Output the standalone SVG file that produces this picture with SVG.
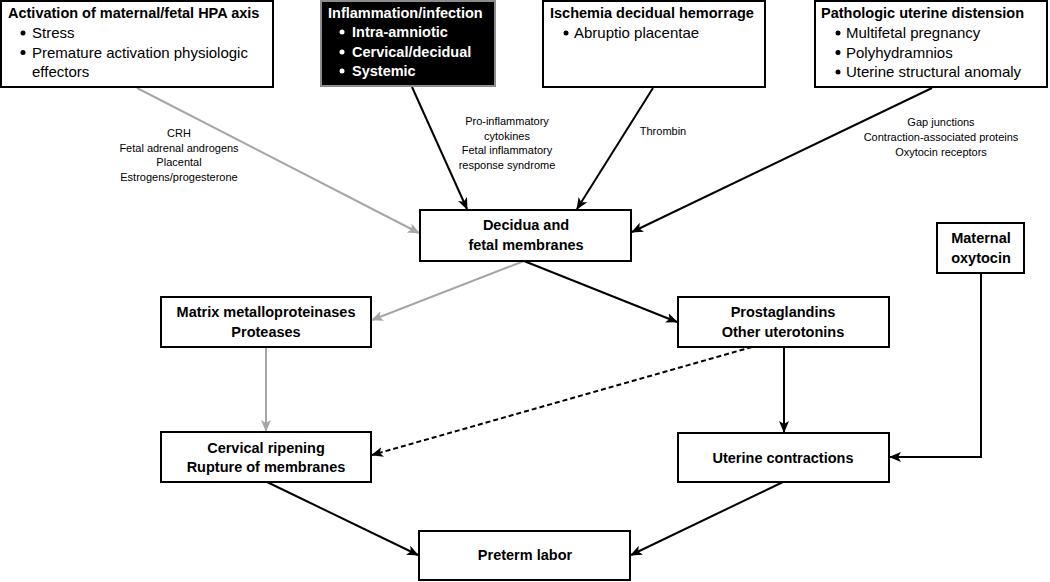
<svg xmlns="http://www.w3.org/2000/svg" width="1050" height="582" viewBox="0 0 1050 582">
<style>
.box{fill:#fff;stroke:#000;stroke-width:2}
.dark{fill:#000;stroke:#8c8c8c;stroke-width:2}
.t{font-family:"Liberation Sans",Arial,sans-serif;font-size:14.5px;font-weight:bold;fill:#000}
.tw{font-family:"Liberation Sans",Arial,sans-serif;font-size:14.5px;font-weight:bold;fill:#fff}
.b{font-family:"Liberation Sans",Arial,sans-serif;font-size:15px;fill:#000}
.l{font-family:"Liberation Sans",Arial,sans-serif;font-size:11px;fill:#000;text-anchor:middle}
.c{text-anchor:middle}
.k{stroke:#000;stroke-width:2;fill:none}
.g{stroke:#a6a6a6;stroke-width:2;fill:none}
.d{stroke:#000;stroke-width:2;fill:none;stroke-dasharray:5,3}
</style>
<defs>
<marker id="ak" viewBox="0 0 12 10" refX="11" refY="5" markerWidth="12" markerHeight="10" markerUnits="userSpaceOnUse" orient="auto">
<path d="M0,0 L12,5 L0,10 L3,5 z" fill="#000"/>
</marker>
<marker id="ag" viewBox="0 0 12 10" refX="11" refY="5" markerWidth="12" markerHeight="10" markerUnits="userSpaceOnUse" orient="auto">
<path d="M0,0 L12,5 L0,10 L3,5 z" fill="#a6a6a6"/>
</marker>
</defs>

<g id="connectors">
<line class="g" x1="137" y1="88" x2="419" y2="233" marker-end="url(#ag)"/>
<line class="k" x1="412" y1="87" x2="467" y2="209" marker-end="url(#ak)"/>
<line class="k" x1="653" y1="88" x2="577" y2="209" marker-end="url(#ak)"/>
<line class="k" x1="932" y1="88" x2="632" y2="232" marker-end="url(#ak)"/>
<line class="g" x1="524" y1="261" x2="372" y2="320" marker-end="url(#ag)"/>
<line class="k" x1="524" y1="261" x2="677" y2="322" marker-end="url(#ak)"/>
<line class="g" x1="266" y1="347" x2="266" y2="431" marker-end="url(#ag)"/>
<line class="d" x1="752" y1="347" x2="372" y2="455" marker-end="url(#ak)"/>
<line class="k" x1="784" y1="347" x2="784" y2="432" marker-end="url(#ak)"/>
<polyline class="k" points="981,273 981,457 890,457" marker-end="url(#ak)"/>
<line class="k" x1="267" y1="482" x2="418" y2="555" marker-end="url(#ak)"/>
<line class="k" x1="783" y1="482" x2="631" y2="555" marker-end="url(#ak)"/>
</g>

<g id="label-hpa">
<text class="l" x="179" y="137">CRH</text>
<text class="l" x="179" y="151.5">Fetal adrenal androgens</text>
<text class="l" x="179" y="166">Placental</text>
<text class="l" x="179" y="180.5">Estrogens/progesterone</text>
</g>
<g id="label-inflam">
<text class="l" x="507" y="125">Pro-inflammatory</text>
<text class="l" x="507" y="139.5">cytokines</text>
<text class="l" x="507" y="154">Fetal inflammatory</text>
<text class="l" x="507" y="168.5">response syndrome</text>
</g>
<g id="label-thrombin">
<text class="l" x="663" y="135">Thrombin</text>
</g>
<g id="label-distension">
<text class="l" x="941" y="126">Gap junctions</text>
<text class="l" x="941" y="141">Contraction-associated proteins</text>
<text class="l" x="941" y="156">Oxytocin receptors</text>
</g>

<g id="node-hpa">
<rect class="box" x="1" y="1" width="272" height="86"/>
<text class="t" x="8" y="18">Activation of maternal/fetal HPA axis</text>
<circle cx="23" cy="33" r="2.5" fill="#000"/>
<text class="b" x="32" y="38">Stress</text>
<circle cx="23" cy="52.5" r="2.5" fill="#000"/>
<text class="b" x="32" y="57.5">Premature activation physiologic</text>
<text class="b" x="32" y="77">effectors</text>
</g>

<g id="node-inflammation">
<rect class="dark" x="321" y="1" width="174" height="85"/>
<text class="tw" x="328" y="18">Inflammation/infection</text>
<circle cx="342" cy="32" r="2.5" fill="#fff"/>
<text class="tw" x="352" y="37">Intra-amniotic</text>
<circle cx="342" cy="52" r="2.5" fill="#fff"/>
<text class="tw" x="352" y="57">Cervical/decidual</text>
<circle cx="342" cy="71" r="2.5" fill="#fff"/>
<text class="tw" x="352" y="76">Systemic</text>
</g>

<g id="node-ischemia">
<rect class="box" x="543" y="1" width="222" height="86"/>
<text class="t" x="550" y="18">Ischemia decidual hemorrage</text>
<circle cx="566" cy="33" r="2.5" fill="#000"/>
<text class="b" x="574" y="38">Abruptio placentae</text>
</g>

<g id="node-distension">
<rect class="box" x="815" y="1" width="232" height="86"/>
<text class="t" x="821" y="18">Pathologic uterine distension</text>
<circle cx="838" cy="33" r="2.5" fill="#000"/>
<text class="b" x="846" y="38">Multifetal pregnancy</text>
<circle cx="838" cy="52.5" r="2.5" fill="#000"/>
<text class="b" x="846" y="57.5">Polyhydramnios</text>
<circle cx="838" cy="72" r="2.5" fill="#000"/>
<text class="b" x="846" y="77">Uterine structural anomaly</text>
</g>

<g id="node-decidua">
<rect class="box" x="420" y="210" width="211" height="51"/>
<text class="t c" x="526" y="230">Decidua and</text>
<text class="t c" x="526" y="250">fetal membranes</text>
</g>

<g id="node-oxytocin">
<rect class="box" x="937" y="223" width="87" height="50"/>
<text class="t c" x="981" y="243">Maternal</text>
<text class="t c" x="981" y="263">oxytocin</text>
</g>

<g id="node-mmp">
<rect class="box" x="161" y="297" width="210" height="50"/>
<text class="t c" x="266" y="317">Matrix metalloproteinases</text>
<text class="t c" x="266" y="337">Proteases</text>
</g>

<g id="node-prostaglandins">
<rect class="box" x="678" y="297" width="211" height="50"/>
<text class="t c" x="783" y="317">Prostaglandins</text>
<text class="t c" x="783" y="337">Other uterotonins</text>
</g>

<g id="node-cervical">
<rect class="box" x="161" y="432" width="210" height="50"/>
<text class="t c" x="266" y="453">Cervical ripening</text>
<text class="t c" x="266" y="472">Rupture of membranes</text>
</g>

<g id="node-contractions">
<rect class="box" x="678" y="433" width="211" height="49"/>
<text class="t c" x="783" y="463">Uterine contractions</text>
</g>

<g id="node-preterm">
<rect class="box" x="419" y="531" width="211" height="49"/>
<text class="t c" x="525" y="560">Preterm labor</text>
</g>
</svg>
